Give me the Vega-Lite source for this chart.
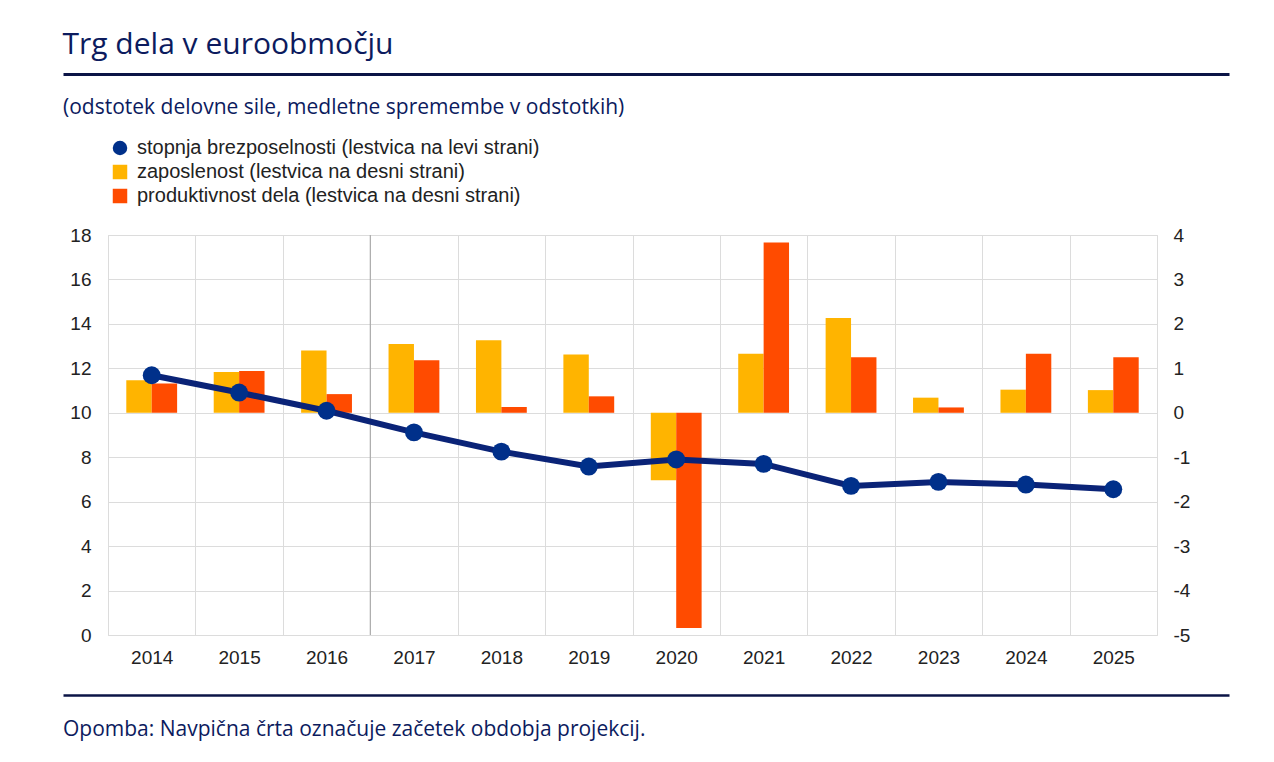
{
  "$schema": "https://vega.github.io/schema/vega-lite/v6.json",
  "padding": {"left": 62, "top": 30, "right": 0, "bottom": 12},
  "background": "white",
  "title": {"text": "Trg dela v euroobmočju", "anchor": "start", "font": "Open Sans", "fontSize": 30, "fontWeight": "normal", "color": "#0c1b5e", "offset": 14},
  "columns": 1,
  "spacing": 21,
  "datasets": {
    "d": [
      {"year": "2014", "series": "stopnja brezposelnosti (lestvica na levi strani)", "value": 11.69},
      {"year": "2015", "series": "stopnja brezposelnosti (lestvica na levi strani)", "value": 10.91},
      {"year": "2016", "series": "stopnja brezposelnosti (lestvica na levi strani)", "value": 10.09},
      {"year": "2017", "series": "stopnja brezposelnosti (lestvica na levi strani)", "value": 9.12},
      {"year": "2018", "series": "stopnja brezposelnosti (lestvica na levi strani)", "value": 8.25},
      {"year": "2019", "series": "stopnja brezposelnosti (lestvica na levi strani)", "value": 7.58},
      {"year": "2020", "series": "stopnja brezposelnosti (lestvica na levi strani)", "value": 7.9},
      {"year": "2021", "series": "stopnja brezposelnosti (lestvica na levi strani)", "value": 7.7},
      {"year": "2022", "series": "stopnja brezposelnosti (lestvica na levi strani)", "value": 6.71},
      {"year": "2023", "series": "stopnja brezposelnosti (lestvica na levi strani)", "value": 6.89},
      {"year": "2024", "series": "stopnja brezposelnosti (lestvica na levi strani)", "value": 6.77},
      {"year": "2025", "series": "stopnja brezposelnosti (lestvica na levi strani)", "value": 6.56},
      {"year": "2014", "series": "zaposlenost (lestvica na desni strani)", "value": 0.73},
      {"year": "2015", "series": "zaposlenost (lestvica na desni strani)", "value": 0.92},
      {"year": "2016", "series": "zaposlenost (lestvica na desni strani)", "value": 1.4},
      {"year": "2017", "series": "zaposlenost (lestvica na desni strani)", "value": 1.55},
      {"year": "2018", "series": "zaposlenost (lestvica na desni strani)", "value": 1.63},
      {"year": "2019", "series": "zaposlenost (lestvica na desni strani)", "value": 1.31},
      {"year": "2020", "series": "zaposlenost (lestvica na desni strani)", "value": -1.52},
      {"year": "2021", "series": "zaposlenost (lestvica na desni strani)", "value": 1.33},
      {"year": "2022", "series": "zaposlenost (lestvica na desni strani)", "value": 2.13},
      {"year": "2023", "series": "zaposlenost (lestvica na desni strani)", "value": 0.34},
      {"year": "2024", "series": "zaposlenost (lestvica na desni strani)", "value": 0.52},
      {"year": "2025", "series": "zaposlenost (lestvica na desni strani)", "value": 0.51},
      {"year": "2014", "series": "produktivnost dela (lestvica na desni strani)", "value": 0.66},
      {"year": "2015", "series": "produktivnost dela (lestvica na desni strani)", "value": 0.94},
      {"year": "2016", "series": "produktivnost dela (lestvica na desni strani)", "value": 0.42},
      {"year": "2017", "series": "produktivnost dela (lestvica na desni strani)", "value": 1.18},
      {"year": "2018", "series": "produktivnost dela (lestvica na desni strani)", "value": 0.13},
      {"year": "2019", "series": "produktivnost dela (lestvica na desni strani)", "value": 0.37},
      {"year": "2020", "series": "produktivnost dela (lestvica na desni strani)", "value": -4.84},
      {"year": "2021", "series": "produktivnost dela (lestvica na desni strani)", "value": 3.83},
      {"year": "2022", "series": "produktivnost dela (lestvica na desni strani)", "value": 1.25},
      {"year": "2023", "series": "produktivnost dela (lestvica na desni strani)", "value": 0.12},
      {"year": "2024", "series": "produktivnost dela (lestvica na desni strani)", "value": 1.33},
      {"year": "2025", "series": "produktivnost dela (lestvica na desni strani)", "value": 1.25}
    ]
  },
  "concat": [
    {
      "width": 1166,
      "height": 1,
      "data": {"values": []},
      "mark": "point",
      "view": {"stroke": null},
      "encoding": {
        "x": {"field": "v", "type": "quantitative", "scale": {"domain": [0, 1]}, "axis": {"orient": "top", "position": -45, "offset": 0, "title": null, "labels": false, "ticks": false, "grid": false, "domain": true, "domainColor": "#0b1446", "domainWidth": 3}}
      }
    },
    {
      "hconcat": [
        {
          "width": 1049,
          "height": 400,
          "data": {"name": "d"},
          "title": {"text": "(odstotek delovne sile, medletne spremembe v odstotkih)", "anchor": "start", "font": "Open Sans", "fontSize": 21, "fontWeight": "normal", "color": "#0c1b5e", "offset": 20},
          "view": {"stroke": "#d9d9d9"},
          "encoding": {
            "x": {
              "field": "year",
              "type": "ordinal",
              "scale": {"paddingInner": 0, "paddingOuter": 0},
              "axis": {"title": null, "tickBand": "extent", "grid": true, "gridColor": "#dcdcdc", "domain": false, "ticks": false, "labelPadding": 13, "labelAngle": 0, "minExtent": 38, "maxExtent": 38}
            }
          },
          "layer": [
            {
              "data": {"values": [{}]},
              "mark": {"type": "rule", "color": "#a0a0a0", "strokeWidth": 1},
              "encoding": {"x": {"datum": "2017", "type": "ordinal", "bandPosition": 0}}
            },
            {
              "transform": [{"filter": {"not": {"field": "series", "equal": "stopnja brezposelnosti (lestvica na levi strani)"}}}],
              "mark": {"type": "bar"},
              "encoding": {
                "xOffset": {"field": "series", "type": "nominal", "scale": {"domain": ["zaposlenost (lestvica na desni strani)", "produktivnost dela (lestvica na desni strani)"], "paddingOuter": 0.72, "paddingInner": 0}},
                "y": {"field": "value", "type": "quantitative", "scale": {"domain": [-5, 4], "nice": false}, "axis": {"orient": "right", "title": null, "values": [-5, -4, -3, -2, -1, 0, 1, 2, 3, 4], "labelExpr": "'' + datum.value", "grid": false, "domain": false, "ticks": false, "labelPadding": 16}},
                "color": {
                  "field": "series", "type": "nominal",
                  "scale": {"domain": ["stopnja brezposelnosti (lestvica na levi strani)", "zaposlenost (lestvica na desni strani)", "produktivnost dela (lestvica na desni strani)"], "range": ["#00308a", "#FFB400", "#FF4B00"]},
                  "legend": {"orient": "none", "legendX": 2, "legendY": -97, "title": null, "symbolSize": 210, "labelOffset": 7, "rowPadding": 4}
                }
              }
            },
            {
              "transform": [{"filter": {"field": "series", "equal": "stopnja brezposelnosti (lestvica na levi strani)"}}],
              "encoding": {
                "y": {"field": "value", "type": "quantitative", "scale": {"domain": [0, 18], "nice": false}, "axis": {"orient": "left", "title": null, "values": [0, 2, 4, 6, 8, 10, 12, 14, 16, 18], "grid": true, "gridColor": "#dcdcdc", "domain": false, "ticks": false, "labelPadding": 17, "minExtent": 45, "maxExtent": 45}}
              },
              "layer": [
                {"mark": {"type": "line", "color": "#0a2377", "strokeWidth": 6}},
                {
                  "mark": {"type": "point", "filled": true, "size": 320, "opacity": 1},
                  "encoding": {
                    "color": {
                      "field": "series", "type": "nominal",
                      "scale": {"domain": ["stopnja brezposelnosti (lestvica na levi strani)", "zaposlenost (lestvica na desni strani)", "produktivnost dela (lestvica na desni strani)"], "range": ["#00308a", "#FFB400", "#FF4B00"]},
                      "legend": {"orient": "none", "legendX": 2, "legendY": -97, "title": null, "symbolSize": 210, "labelOffset": 7, "rowPadding": 4}
                    },
                    "shape": {
                      "field": "series", "type": "nominal",
                      "scale": {"domain": ["stopnja brezposelnosti (lestvica na levi strani)", "zaposlenost (lestvica na desni strani)", "produktivnost dela (lestvica na desni strani)"], "range": ["circle", "square", "square"]},
                      "legend": {"orient": "none", "legendX": 2, "legendY": -97, "title": null, "symbolSize": 210, "labelOffset": 7, "rowPadding": 4}
                    }
                  }
                }
              ]
            }
          ],
          "resolve": {"scale": {"y": "independent"}}
        }
      ],
      "resolve": {"scale": {"color": "independent", "shape": "independent"}, "legend": {"color": "independent", "shape": "independent"}}
    },
    {
      "width": 1166,
      "height": 1,
      "data": {"values": []},
      "mark": "point",
      "view": {"stroke": null},
      "encoding": {
        "x": {"field": "v", "type": "quantitative", "scale": {"domain": [0, 1]}, "axis": {"orient": "top", "position": -45, "offset": 0, "title": null, "labels": false, "ticks": false, "grid": false, "domain": true, "domainColor": "#0b1446", "domainWidth": 2.5}}
      },
      "title": {"text": "Opomba: Navpična črta označuje začetek obdobja projekcij.", "orient": "bottom", "anchor": "start", "font": "Open Sans", "fontSize": 21, "fontWeight": "normal", "color": "#0c1b5e", "offset": 23}
    }
  ],
  "resolve": {"scale": {"color": "independent", "shape": "independent"}, "legend": {"color": "independent", "shape": "independent"}},
  "config": {
    "font": "Liberation Sans",
    "axis": {"labelFont": "Liberation Sans", "labelFontSize": 19, "labelColor": "#222222"},
    "legend": {"labelFont": "Liberation Sans", "labelFontSize": 20, "labelColor": "#222222", "labelLimit": 700}
  }
}
